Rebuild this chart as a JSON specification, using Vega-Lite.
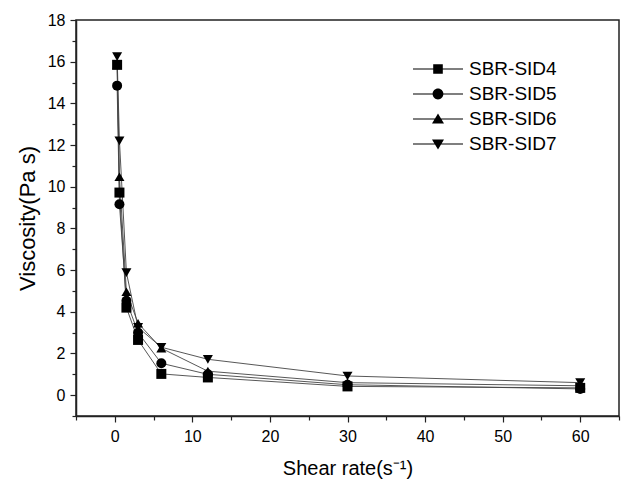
{
  "$schema": "https://vega.github.io/schema/vega-lite/v6.json",
  "width": 543,
  "height": 396,
  "autosize": {"type": "none"},
  "padding": {"left": 76, "top": 20, "right": 4, "bottom": 68},
  "background": "white",
  "config": {
    "font": "Liberation Sans",
    "view": {"stroke": "#222", "strokeWidth": 1.5},
    "axis": {"grid": false, "domainColor": "#222", "domainWidth": 1.5, "tickColor": "#222", "tickWidth": 1.2, "labelColor": "#000", "titleColor": "#000", "labelFont": "Liberation Sans", "titleFont": "Liberation Sans", "titleFontWeight": "normal", "labelFontSize": 16}
  },
  "data": {
    "values": [
      {"rate": 0.3, "v": 15.85, "s": "SBR-SID4"},
      {"rate": 0.6, "v": 9.72, "s": "SBR-SID4"},
      {"rate": 1.5, "v": 4.2, "s": "SBR-SID4"},
      {"rate": 3, "v": 2.65, "s": "SBR-SID4"},
      {"rate": 6, "v": 1.02, "s": "SBR-SID4"},
      {"rate": 12, "v": 0.85, "s": "SBR-SID4"},
      {"rate": 30, "v": 0.42, "s": "SBR-SID4"},
      {"rate": 60, "v": 0.35, "s": "SBR-SID4"},
      {"rate": 0.3, "v": 14.85, "s": "SBR-SID5"},
      {"rate": 0.6, "v": 9.16, "s": "SBR-SID5"},
      {"rate": 1.5, "v": 4.53, "s": "SBR-SID5"},
      {"rate": 3, "v": 3.0, "s": "SBR-SID5"},
      {"rate": 6, "v": 1.53, "s": "SBR-SID5"},
      {"rate": 12, "v": 1.0, "s": "SBR-SID5"},
      {"rate": 30, "v": 0.5, "s": "SBR-SID5"},
      {"rate": 60, "v": 0.3, "s": "SBR-SID5"},
      {"rate": 0.3, "v": 15.84, "s": "SBR-SID6"},
      {"rate": 0.6, "v": 10.48, "s": "SBR-SID6"},
      {"rate": 1.5, "v": 4.96, "s": "SBR-SID6"},
      {"rate": 3, "v": 3.45, "s": "SBR-SID6"},
      {"rate": 6, "v": 2.25, "s": "SBR-SID6"},
      {"rate": 12, "v": 1.15, "s": "SBR-SID6"},
      {"rate": 30, "v": 0.6, "s": "SBR-SID6"},
      {"rate": 60, "v": 0.45, "s": "SBR-SID6"},
      {"rate": 0.3, "v": 16.24, "s": "SBR-SID7"},
      {"rate": 0.6, "v": 12.2, "s": "SBR-SID7"},
      {"rate": 1.5, "v": 5.88, "s": "SBR-SID7"},
      {"rate": 3, "v": 3.25, "s": "SBR-SID7"},
      {"rate": 6, "v": 2.3, "s": "SBR-SID7"},
      {"rate": 12, "v": 1.72, "s": "SBR-SID7"},
      {"rate": 30, "v": 0.92, "s": "SBR-SID7"},
      {"rate": 60, "v": 0.6, "s": "SBR-SID7"}
    ]
  },
  "encoding": {
    "x": {
      "field": "rate", "type": "quantitative",
      "scale": {"domain": [-5, 65], "nice": false, "zero": false},
      "axis": {
        "title": "Shear rate(s⁻¹)",
        "titleFontSize": 20,
        "values": [-5, 0, 5, 10, 15, 20, 25, 30, 35, 40, 45, 50, 55, 60, 65],
        "labelExpr": "datum.value % 10 == 0 ? datum.label : ''",
        "tickSize": {"expr": "datum.value % 10 == 0 ? 6 : 4"},
        "labelPadding": 6,
        "titlePadding": 14
      }
    },
    "y": {
      "field": "v", "type": "quantitative",
      "scale": {"domain": [-1, 18], "nice": false, "zero": false},
      "axis": {
        "title": "Viscosity(Pa s)",
        "titleFontSize": 22,
        "values": [-1, 0, 1, 2, 3, 4, 5, 6, 7, 8, 9, 10, 11, 12, 13, 14, 15, 16, 17, 18],
        "labelExpr": "datum.value >= 0 && datum.value % 2 == 0 ? datum.label : ''",
        "tickSize": {"expr": "datum.value >= 0 && datum.value % 2 == 0 ? 6 : 4"},
        "labelPadding": 5,
        "titlePadding": 8
      }
    }
  },
  "layer": [
    {
      "mark": {"type": "line", "color": "#444", "strokeWidth": 0.9},
      "encoding": {"detail": {"field": "s"}, "order": {"field": "rate"}}
    },
    {
      "mark": {"type": "point", "filled": true, "color": "#000", "opacity": 1, "size": 100},
      "encoding": {
        "shape": {
          "field": "s", "type": "nominal",
          "scale": {"domain": ["SBR-SID4", "SBR-SID5", "SBR-SID6", "SBR-SID7"], "range": ["square", "circle", "triangle-up", "triangle-down"]},
          "legend": null
        }
      }
    },
    {
      "mark": {"type": "point", "filled": true, "color": "#000", "opacity": 0, "size": 1},
      "encoding": {
        "shape": {
          "field": "s", "type": "nominal",
          "scale": {"domain": ["SBR-SID4", "SBR-SID5", "SBR-SID6", "SBR-SID7"], "range": [
            "M-2.5,-0.055H2.5V0.055H-2.5ZM-0.48,-0.48H0.48V0.48H-0.48Z",
            "M-2.5,-0.055H2.5V0.055H-2.5ZM-0.54,0A0.54,0.54,0,1,1,0.54,0A0.54,0.54,0,1,1,-0.54,0Z",
            "M-2.5,-0.055H2.5V0.055H-2.5ZM0,-0.55L0.6,0.45L-0.6,0.45Z",
            "M-2.5,-0.055H2.5V0.055H-2.5ZM0,0.55L-0.6,-0.45L0.6,-0.45Z"
          ]},
          "legend": {
            "title": null,
            "orient": "none",
            "legendX": 351,
            "legendY": 38,
            "symbolSize": 400,
            "symbolFillColor": "#000",
            "symbolOpacity": 1,
            "labelFontSize": 19,
            "labelFont": "Liberation Sans",
            "labelColor": "#000",
            "labelOffset": 20,
            "rowPadding": 4
          }
        }
      }
    }
  ],
  "resolve": {"scale": {"shape": "independent"}, "legend": {"shape": "independent"}}
}
